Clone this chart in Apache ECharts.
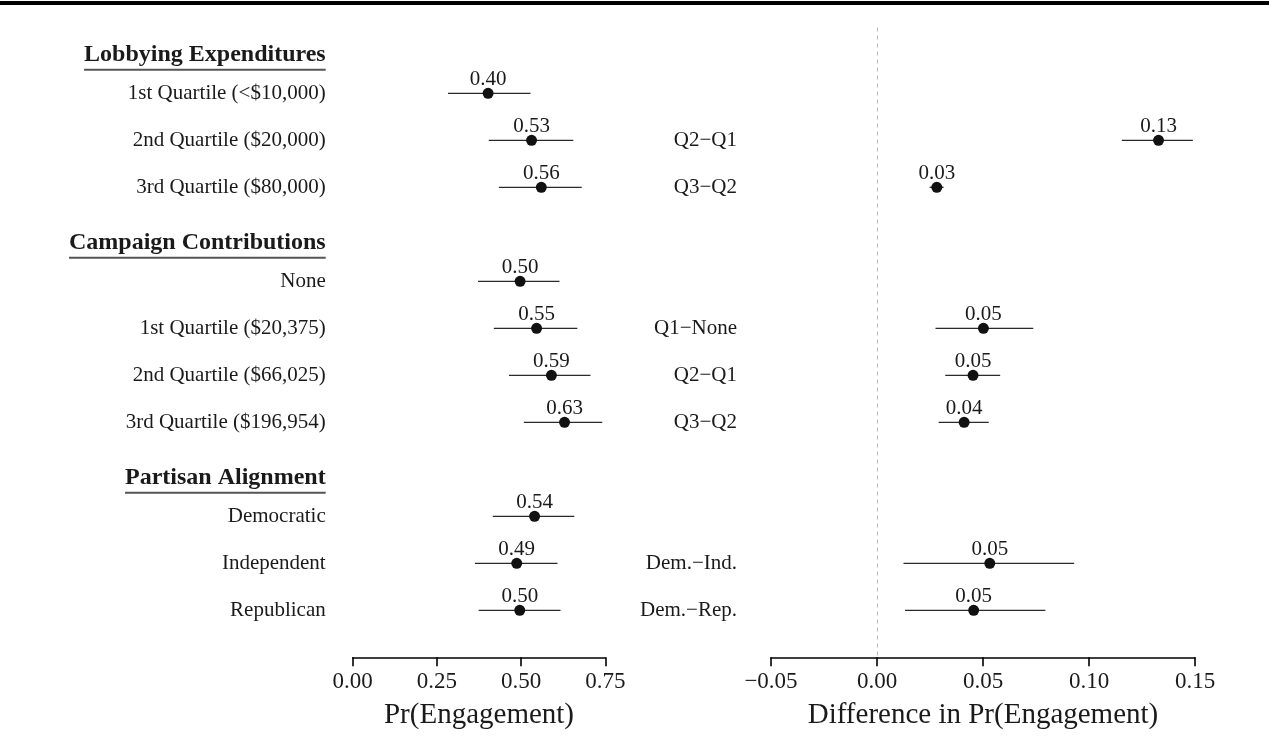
<!DOCTYPE html>
<html>
<head>
<meta charset="utf-8">
<script src="https://cdn.jsdelivr.net/npm/echarts@6/dist/echarts.min.js"></script>
<style>
html,body{margin:0;padding:0;background:#fff;}
#chart{width:1269px;height:744px;}
</style>
</head>
<body>
<div id="chart"></div>
<script>
// ---- Data ----
const rowLabels = [
  'Lobbying Expenditures',
  '1st Quartile (<$10,000)',
  '2nd Quartile ($20,000)',
  '3rd Quartile ($80,000)',
  'Campaign Contributions',
  'None',
  '1st Quartile ($20,375)',
  '2nd Quartile ($66,025)',
  '3rd Quartile ($196,954)',
  'Partisan Alignment',
  'Democratic',
  'Independent',
  'Republican'
];
const headerLabels = ['Lobbying Expenditures', 'Campaign Contributions', 'Partisan Alignment'];

const prEst  = [null, 0.402, 0.531, 0.560, null, 0.497, 0.546, 0.590, 0.629, null, 0.540, 0.487, 0.496];
const prLow  = [null, 0.283, 0.404, 0.434, null, 0.372, 0.419, 0.464, 0.508, null, 0.416, 0.363, 0.374];
const prHigh = [null, 0.528, 0.655, 0.680, null, 0.614, 0.667, 0.706, 0.741, null, 0.658, 0.608, 0.617];

const diffLabels = ['', '', 'Q2\u2212Q1', 'Q3\u2212Q2', '', '', 'Q1\u2212None', 'Q2\u2212Q1', 'Q3\u2212Q2', '', '', 'Dem.\u2212Ind.', 'Dem.\u2212Rep.'];
const diffEst  = [null, null, 0.1328, 0.0282, null, null, 0.0502, 0.0453, 0.0411, null, null, 0.0532, 0.0456];
const diffLow  = [null, null, 0.1155, 0.0248, null, null, 0.0276, 0.0322, 0.0291, null, null, 0.0125, 0.0132];
const diffHigh = [null, null, 0.1490, 0.0314, null, null, 0.0737, 0.0581, 0.0527, null, null, 0.0930, 0.0794];

const leftTicks = [0, 0.25, 0.5, 0.75];
const rightTicks = [-0.05, 0, 0.05, 0.10, 0.15];
const leftTitle = 'Pr(Engagement)';
const rightTitle = 'Difference in Pr(Engagement)';

// ---- Styles ----
const FONT = '"Liberation Serif", "Times New Roman", serif';
const TXT = '#1a1a1a';

const measureCanvas = document.createElement('canvas').getContext('2d');
function textWidth(str, font) { measureCanvas.font = font; return measureCanvas.measureText(str).width; }

function idxData(est, low, high) {
  const out = [];
  est.forEach((v, i) => { if (v != null) out.push([v, i, low[i], high[i]]); });
  return out;
}
const prData = idxData(prEst, prLow, prHigh);
const diffData = idxData(diffEst, diffLow, diffHigh);

function errorBarSeries(data, axisIdx) {
  return {
    type: 'custom', xAxisIndex: axisIdx, yAxisIndex: axisIdx, clip: false, silent: true,
    data: data,
    encode: { x: [2, 3], y: 1 },
    renderItem: function (params, api) {
      const a = api.coord([api.value(2), api.value(1)]);
      const b = api.coord([api.value(3), api.value(1)]);
      return { type: 'line', shape: { x1: a[0], y1: a[1], x2: b[0], y2: b[1] },
        style: { stroke: '#2a2a2a', lineWidth: 1.3 } };
    },
    z: 2
  };
}
function pointSeries(data, axisIdx, extra) {
  return Object.assign({
    type: 'scatter', xAxisIndex: axisIdx, yAxisIndex: axisIdx, clip: false, silent: true,
    data: data.map(d => [d[0], d[1]]),
    symbol: 'circle', symbolSize: 11,
    itemStyle: { color: '#111', opacity: 1 },
    label: { show: true, position: 'inside', offset: [0, -14],
      formatter: p => p.value[0].toFixed(2),
      fontFamily: FONT, fontSize: 21, color: TXT },
    z: 3
  }, extra || {});
}

const rowIdx = rowLabels.map((_, i) => [i]);

const option = {
  animation: false,
  backgroundColor: '#fff',
  graphic: [{ type: 'rect', shape: { x: 0, y: 1, width: 1269, height: 4 }, style: { fill: '#000' } }],
  grid: [
    { left: 352.7, width: 252.6, top: 27.5, bottom: 86.7 },
    { left: 771, width: 424, top: 27.5, bottom: 86.7 }
  ],
  xAxis: [
    { gridIndex: 0, type: 'value', min: 0, max: 0.75, interval: 0.25,
      axisLine: { show: true, onZero: false, lineStyle: { color: '#000', width: 1.6 } },
      axisTick: { show: true, length: 9, lineStyle: { color: '#000', width: 1.6 } },
      axisLabel: { margin: 13, fontFamily: FONT, fontSize: 23, color: TXT, formatter: v => v.toFixed(2) },
      splitLine: { show: false },
      name: leftTitle, nameLocation: 'middle', nameGap: 44,
      nameTextStyle: { fontFamily: FONT, fontSize: 29, color: TXT } },
    { gridIndex: 1, type: 'value', min: -0.05, max: 0.15, interval: 0.05,
      axisLine: { show: true, onZero: false, lineStyle: { color: '#000', width: 1.6 } },
      axisTick: { show: true, length: 9, lineStyle: { color: '#000', width: 1.6 } },
      axisLabel: { margin: 13, fontFamily: FONT, fontSize: 23, color: TXT,
        formatter: v => v.toFixed(2).replace('-', '\u2212') },
      splitLine: { show: false },
      name: rightTitle, nameLocation: 'middle', nameGap: 44,
      nameTextStyle: { fontFamily: FONT, fontSize: 29, color: TXT } }
  ],
  yAxis: [
    { gridIndex: 0, type: 'value', inverse: true, min: -0.4, max: 13, show: false },
    { gridIndex: 1, type: 'value', inverse: true, min: -0.4, max: 13, show: false }
  ],
  series: [
    // left row labels and headers
    {
      type: 'custom', xAxisIndex: 0, yAxisIndex: 0, clip: false, silent: true,
      data: rowIdx, encode: { y: 0 },
      renderItem: function (params, api) {
        const i = api.value(0);
        const label = rowLabels[i];
        const c = api.coord([0, i]);
        const xr = c[0] - 27;
        if (headerLabels.indexOf(label) >= 0) {
          const w = textWidth(label, 'bold 24px ' + FONT);
          return { type: 'group', children: [
            { type: 'text', x: xr, y: c[1] + 8.5,
              style: { text: label, fontFamily: FONT, fontSize: 24, fontWeight: 'bold', fill: TXT,
                align: 'right', verticalAlign: 'middle' } },
            { type: 'line', shape: { x1: xr - w, y1: c[1] + 23.5, x2: xr, y2: c[1] + 23.5 },
              style: { stroke: '#555', lineWidth: 2 } }
          ] };
        }
        return { type: 'text', x: xr, y: c[1],
          style: { text: label, fontFamily: FONT, fontSize: 21, fill: TXT, align: 'right', verticalAlign: 'middle' } };
      }
    },
    // right difference labels
    {
      type: 'custom', xAxisIndex: 1, yAxisIndex: 1, clip: false, silent: true,
      data: rowIdx, encode: { y: 0 },
      renderItem: function (params, api) {
        const i = api.value(0);
        const label = diffLabels[i];
        if (!label) return null;
        const c = api.coord([-0.05, i]);
        return { type: 'text', x: c[0] - 34, y: c[1],
          style: { text: label, fontFamily: FONT, fontSize: 21, fill: TXT, align: 'right', verticalAlign: 'middle' } };
      }
    },
    errorBarSeries(prData, 0),
    pointSeries(prData, 0),
    errorBarSeries(diffData, 1),
    pointSeries(diffData, 1, {
      markLine: { silent: true, symbol: 'none', label: { show: false },
        lineStyle: { color: '#bdbdbd', type: [4, 4], width: 1 },
        data: [{ xAxis: 0 }] }
    })
  ]
};

const chart = echarts.init(document.getElementById('chart'), null, { renderer: 'canvas' });
chart.setOption(option);
</script>
</body>
</html>
